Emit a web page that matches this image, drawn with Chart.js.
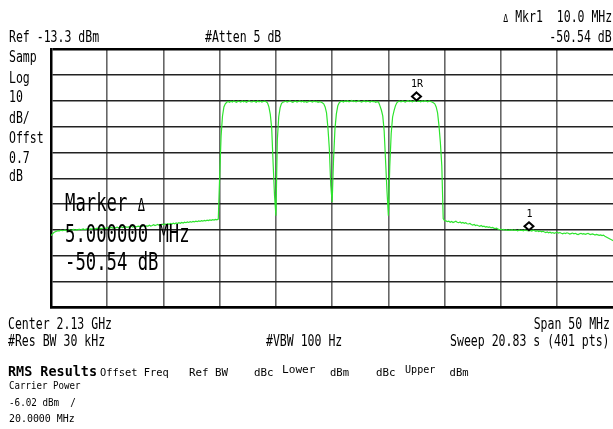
<!DOCTYPE html>
<html lang="en">
<head>
<meta charset="UTF-8">
<title>Spectrum - ACP 4 carriers</title>
<script src="https://cdn.jsdelivr.net/npm/chart.js"></script>
<style>
    body { margin: 0; background: #fff; width: 613px; height: 429px; position: relative; overflow: hidden; }
    #sa { position: absolute; left: 0; top: 0; }
    .note { position: absolute; white-space: pre; color: #000; font-family: "DejaVu Sans Mono", "Liberation Mono", monospace; }
</style>
</head>
<body>
<canvas id="sa" width="616" height="429"></canvas>
<script>
// sweep: 2105 .. 2155 MHz, 401 points
const startFreq = 2105;
const stopFreq = 2155;
const xGrid = [2105, 2110, 2115, 2120, 2125, 2130, 2135, 2140, 2145, 2150, 2155];
const yGrid = [-113.3, -103.3, -93.3, -83.3, -73.3, -63.3, -53.3, -43.3, -33.3, -23.3, -13.3];

// trace in dBm, 10 points per row
const traceDbm = [
    -85.5, -84.9, -84.3, -84.0, -83.8, -83.6, -83.7, -83.4, -83.6, -83.5,
    -83.3, -83.6, -83.4, -83.2, -83.5, -83.3, -83.1, -83.4, -83.2, -83.3,
    -83.0, -83.3, -83.1, -82.9, -83.2, -83.0, -82.8, -83.1, -82.9, -83.0,
    -82.7, -83.0, -82.8, -82.6, -82.9, -82.7, -82.8, -82.5, -82.8, -82.6,
    -82.4, -82.7, -82.5, -82.3, -82.6, -82.4, -82.5, -82.2, -82.5, -82.3,
    -82.1, -82.4, -82.2, -82.0, -82.3, -82.1, -82.2, -81.9, -82.2, -82.0,
    -81.9, -82.1, -81.8, -82.0, -81.7, -81.9, -81.6, -81.9, -81.7, -81.8,
    -81.5, -81.8, -81.6, -81.3, -81.6, -81.4, -81.2, -81.5, -81.3, -81.1,
    -81.3, -81.0, -81.2, -80.9, -81.1, -80.8, -81.0, -80.7, -80.9, -80.6,
    -80.8, -80.5, -80.7, -80.4, -80.6, -80.3, -80.5, -80.2, -80.4, -80.1,
    -80.3, -80.0, -80.2, -79.9, -80.1, -79.8, -80.0, -79.7, -79.9, -79.6,
    -79.8, -79.5, -79.7, -79.4, -79.6, -79.3, -79.5, -79.2, -79.4, -79.1,
    -62.3, -46.9, -39.2, -35.7, -34.5, -33.9, -33.6, -33.9, -33.5, -33.8,
    -33.4, -33.7, -33.9, -33.5, -33.6, -33.8, -33.4, -33.7, -33.5, -33.9,
    -33.6, -33.3, -33.7, -33.8, -33.5, -33.6, -33.9, -33.4, -33.7, -33.5,
    -33.8, -33.6, -33.5, -33.7, -34.1, -35.7, -38.6, -44.0, -57.5, -70.0,
    -77.8, -48.5, -39.5, -36.0, -34.3, -33.9, -33.7, -33.5, -33.8, -33.6,
    -33.4, -33.7, -33.9, -33.6, -33.5, -33.8, -33.6, -33.4, -33.7, -33.5,
    -33.8, -33.6, -33.9, -33.7, -33.5, -33.6, -33.8, -33.5, -33.7, -33.6,
    -33.9, -33.7, -33.8, -34.1, -34.5, -35.7, -38.0, -43.8, -51.9, -66.0,
    -72.6, -55.8, -44.2, -38.4, -35.3, -34.1, -33.6, -33.5, -33.8, -33.4,
    -33.6, -33.3, -33.7, -33.5, -33.2, -33.6, -33.4, -33.7, -33.5, -33.3,
    -33.6, -33.8, -33.5, -33.4, -33.7, -33.5, -33.6, -33.8, -33.5, -33.7,
    -33.6, -33.9, -33.7, -33.8, -35.3, -36.9, -39.2, -45.0, -56.5, -68.1,
    -77.8, -58.5, -46.1, -39.6, -37.2, -35.3, -34.1, -33.6, -33.5, -33.7,
    -33.4, -33.6, -33.8, -33.5, -33.3, -33.6, -33.4, -33.7, -33.5, -33.3,
    -33.4, -33.6, -33.5, -33.7, -33.4, -33.6, -33.3, -33.5, -33.7, -33.4,
    -33.6, -33.8, -34.1, -34.5, -35.7, -38.0, -43.0, -49.6, -58.5, -78.9,
    -79.7, -79.8, -80.1, -79.9, -80.3, -80.0, -80.4, -80.2, -79.9, -80.3,
    -80.5, -80.2, -80.6, -80.4, -80.7, -80.5, -80.9, -81.0, -80.8, -81.2,
    -81.4, -81.2, -81.6, -81.4, -81.7, -81.9, -81.6, -82.0, -81.8, -82.2,
    -82.0, -82.3, -82.1, -82.5, -82.3, -82.6, -82.8, -82.6, -83.0, -83.2,
    -83.0, -83.3, -83.1, -83.4, -83.2, -83.5, -83.3, -83.4, -83.2, -83.5,
    -83.3, -83.4, -83.6, -83.3, -83.5, -83.4, -83.6, -83.3, -83.5, -83.6,
    -83.6, -83.5, -83.7, -83.4, -83.6, -83.8, -83.6, -83.9, -83.7, -84.0,
    -83.8, -84.1, -84.3, -84.1, -84.4, -84.2, -84.5, -84.3, -84.6, -84.4,
    -84.2, -84.5, -84.3, -84.6, -84.8, -84.5, -84.7, -84.4, -84.6, -84.9,
    -84.7, -84.5, -84.8, -84.6, -84.9, -85.1, -84.8, -84.6, -84.9, -84.7,
    -85.0, -84.8, -84.6, -84.9, -85.1, -84.8, -85.0, -85.3, -85.0, -85.2,
    -85.4, -85.2, -85.5, -85.3, -85.7, -86.0, -86.3, -86.6, -86.9, -87.2,
    -87.5
];

const markerFreqs = [2137.5, 2147.5];
const markerLabels = ['1R', '1'];

const stepFreq = (stopFreq - startFreq) / (traceDbm.length - 1);
const points = traceDbm.map((v, i) => ({ x: startFreq + i * stepFreq, y: v }));

// diamond markers sitting on the trace
const markerPlugin = {
    id: 'markers',
    afterDatasetsDraw(chart) {
        const { ctx, scales: { x, y } } = chart;
        ctx.save();
        markerFreqs.forEach((f, k) => {
            const idx = Math.round((f - startFreq) / stepFreq);
            const px = x.getPixelForValue(f);
            const py = y.getPixelForValue(traceDbm[idx]) - 4.5;
            ctx.beginPath();
            ctx.moveTo(px, py - 4);
            ctx.lineTo(px + 4.5, py);
            ctx.lineTo(px, py + 4);
            ctx.lineTo(px - 4.5, py);
            ctx.closePath();
            ctx.fillStyle = '#fff';
            ctx.fill();
            ctx.lineWidth = 2;
            ctx.strokeStyle = '#000';
            ctx.stroke();
            ctx.fillStyle = '#000';
            ctx.font = '10px "DejaVu Sans Mono"';
            ctx.textAlign = 'center';
            ctx.textBaseline = 'alphabetic';
            ctx.fillText(markerLabels[k], px + 0.5, py - 9);
        });
        ctx.restore();
    }
};

new Chart(document.getElementById('sa'), {
    type: 'line',
    data: {
        datasets: [{
            data: points,
            borderColor: 'rgb(45, 228, 45)',
            borderWidth: 1.2,
            pointRadius: 0,
            tension: 0
        }]
    },
    options: {
        responsive: false,
        animation: false,
        layout: { padding: { left: 51, top: 49, right: 2.7, bottom: 121.5 } },
        plugins: { legend: { display: false }, tooltip: { enabled: false } },
        scales: {
            x: {
                type: 'linear',
                min: startFreq,
                max: stopFreq,
                afterBuildTicks: axis => { axis.ticks = xGrid.map(v => ({ value: v })); },
                ticks: { display: false },
                grid: { color: '#666', lineWidth: 1.6, drawTicks: false },
                border: { display: true, color: '#000', width: 2.5 }
            },
            y: {
                type: 'linear',
                min: yGrid[0],
                max: yGrid[yGrid.length - 1],
                afterBuildTicks: axis => { axis.ticks = yGrid.map(v => ({ value: v })); },
                ticks: { display: false },
                grid: {
                    color: c => c.index === yGrid.length - 1 ? '#000' : '#222',
                    lineWidth: c => c.index === yGrid.length - 1 ? 2.5 : 1.4,
                    drawTicks: false
                },
                border: { display: true, color: '#000', width: 2.5 }
            }
        }
    },
    plugins: [markerPlugin]
});

// screen annotations: text, x, baseline, font size, x-squeeze, align, bold
const notes = [
    ['Ref -13.3 dBm', 9, 42.5, 16, 0.72, 'l'],
    ['#Atten 5 dB', 205, 42.5, 16, 0.72, 'l'],
    ['Δ Mkr1  10.0 MHz', 612.5, 22.5, 16, 0.72, 'r'],
    ['-50.54 dB', 612, 42.5, 16, 0.72, 'r'],
    ['Samp', 9, 62.3, 16, 0.72, 'l'],
    ['Log', 9, 83.3, 16, 0.72, 'l'],
    ['10', 9, 102.7, 16, 0.72, 'l'],
    ['dB/', 9, 124, 16, 0.72, 'l'],
    ['Offst', 9, 144, 16, 0.72, 'l'],
    ['0.7', 9, 163.3, 16, 0.72, 'l'],
    ['dB', 9, 181.7, 16, 0.72, 'l'],
    ['Marker Δ', 65, 210.7, 25, 0.69, 'l'],
    ['5.000000 MHz', 65, 241.7, 25, 0.69, 'l'],
    ['-50.54 dB', 65, 270, 25, 0.69, 'l'],
    ['Center 2.13 GHz', 8, 329.3, 16, 0.72, 'l'],
    ['Span 50 MHz', 610, 329.3, 16, 0.72, 'r'],
    ['#Res BW 30 kHz', 8, 346.7, 16, 0.72, 'l'],
    ['#VBW 100 Hz', 266, 346.7, 16, 0.72, 'l'],
    ['Sweep 20.83 s (401 pts)', 610, 346.7, 16, 0.72, 'r'],
    ['RMS Results', 8, 376, 14, 0.96, 'l', true],
    ['Offset Freq', 99.7, 376, 10.5, 0.99, 'l'],
    ['Ref BW', 188.8, 376, 10.5, 1.03, 'l'],
    ['dBc', 254, 376, 10.5, 1.03, 'l'],
    ['Lower', 281.5, 372.7, 10.5, 1.06, 'l'],
    ['dBm', 330, 376, 10.5, 1.0, 'l'],
    ['dBc', 376, 376, 10.5, 1.03, 'l'],
    ['Upper', 404.6, 372.7, 10.5, 0.96, 'l'],
    ['dBm', 449.6, 376, 10.5, 1.0, 'l'],
    ['Carrier Power', 8.6, 389.3, 10.5, 0.87, 'l'],
    ['-6.02 dBm  /', 8.6, 406, 10.5, 0.88, 'l'],
    ['20.0000 MHz', 8.6, 421.7, 10.5, 0.945, 'l']
];

notes.forEach(([txt, x, base, size, sx, align, bold]) => {
    const d = document.createElement('div');
    d.className = 'note';
    d.style.fontSize = size + 'px';
    d.style.lineHeight = size + 'px';
    d.style.top = (base - 0.846 * size) + 'px';
    if (bold) d.style.fontWeight = 'bold';
    if (align === 'r') {
        d.style.right = (613 - x) + 'px';
        d.style.transformOrigin = 'right center';
    } else {
        d.style.left = x + 'px';
        d.style.transformOrigin = 'left center';
    }
    d.style.transform = 'scaleX(' + sx + ')';
    // the delta sign is printed smaller than the letters
    const parts = txt.split('Δ');
    parts.forEach((p, k) => {
        if (k > 0) {
            const s = document.createElement('span');
            s.textContent = 'Δ';
            s.style.fontSize = '0.7em';
            d.appendChild(s);
        }
        d.appendChild(document.createTextNode(p));
    });
    document.body.appendChild(d);
});
</script>
</body>
</html>
